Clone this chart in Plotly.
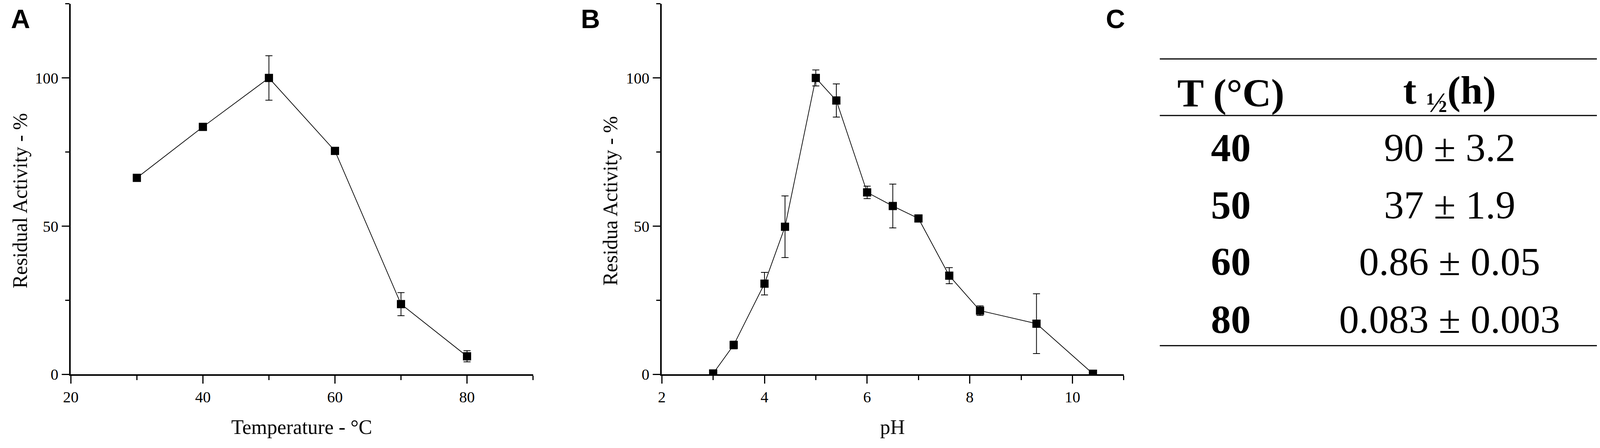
import plotly.graph_objects as go

# panel A - thermal stability
temp_c = [30, 40, 50, 60, 70, 80]
temp_activity = [66.3, 83.5, 100, 75.4, 23.7, 6.1]
temp_err = [0, 0, 7.5, 0, 3.9, 1.9]

# panel B - pH profile
ph_values = [3.0, 3.4, 4.0, 4.4, 5.0, 5.4, 6.0, 6.5, 7.0, 7.6, 8.2, 9.3, 10.4]
ph_activity = [0.3, 9.9, 30.6, 49.8, 100, 92.4, 61.4, 56.8, 52.6, 33.3, 21.5, 17.1, 0.2]
ph_err = [0, 1.3, 3.8, 10.4, 2.7, 5.6, 2.1, 7.4, 0, 2.7, 1.6, 10.1, 0]

# panel C - half lives
table_header = ['T (°C)', 't <sub>½</sub>(h)']
table_temps = ['40', '50', '60', '80']
table_half_life = ['90 ± 3.2', '37 ± 1.9', '0.86 ± 0.05', '0.083 ± 0.003']

SERIF = 'Liberation Serif'

# the browser viewport is 4096 px wide (8 px body margin), so the layout
# below is given in reference pixels (4550 x 1148) and squeezed to fit
REF_W = 4550
VIEW_W, VIEW_H = 4096, 1148
PAD = 8
W, H = VIEW_W - 2 * PAD, VIEW_H - 2 * PAD
SX = VIEW_W / REF_W


def px_x(v):
    return (v * SX - PAD) / W


def px_y(v):
    return (H - (v - PAD)) / H


def series(x, y, err, xa, ya):
    return go.Scatter(
        x=x, y=y, xaxis=xa, yaxis=ya,
        mode='lines+markers',
        line={'color': 'black', 'width': 1.8},
        marker={'symbol': 'square', 'size': 21, 'color': 'black'},
        error_y={'type': 'data', 'array': err, 'visible': True,
                 'color': 'black', 'thickness': 2, 'width': 9},
        showlegend=False,
    )


fig = go.Figure()
fig.add_trace(series(temp_c, temp_activity, temp_err, 'x', 'y'))
fig.add_trace(series(ph_values, ph_activity, ph_err, 'x2', 'y2'))

minor = {'ticklen': 11, 'tickwidth': 3, 'tickcolor': 'black', 'ticks': 'outside'}
axis_style = {
    'showline': True, 'linecolor': 'black', 'linewidth': 3.5,
    'showgrid': False, 'zeroline': False,
    'ticks': 'outside', 'ticklen': 20, 'tickwidth': 3, 'tickcolor': 'black',
    'tickfont': {'family': SERIF, 'size': 40, 'color': 'black'},
    'fixedrange': True,
}

y_bottom, y_top = px_y(979), px_y(10)

fig.update_layout(
    width=W, height=H,
    margin={'l': 0, 'r': 0, 't': 0, 'b': 0},
    paper_bgcolor='white', plot_bgcolor='white',
    xaxis=dict(axis_style, domain=[px_x(180), px_x(1501)], range=[20, 90],
               dtick=20, tick0=20, anchor='y', minor=dict(minor, dtick=10)),
    yaxis=dict(axis_style, domain=[y_bottom, y_top], range=[0, 125],
               dtick=50, tick0=0, anchor='x', minor=dict(minor, dtick=25)),
    xaxis2=dict(axis_style, domain=[px_x(1869), px_x(3189)], range=[2, 11],
                dtick=2, tick0=2, anchor='y2', minor=dict(minor, dtick=1)),
    yaxis2=dict(axis_style, domain=[y_bottom, y_top], range=[0, 125],
                dtick=50, tick0=0, anchor='x2', minor=dict(minor, dtick=25)),
)

ann = []
# axis titles
title_font = {'family': SERIF, 'size': 52, 'color': 'black'}
ann.append(dict(text='Temperature - °C', x=px_x(840), y=px_y(1117), font=title_font))
ann.append(dict(text='pH', x=px_x(2528), y=px_y(1117), font=title_font))
ann.append(dict(text='Residual Activity - %', x=px_x(35), y=px_y(525),
                textangle=-90, font=title_font))
ann.append(dict(text='Residua Activity - %', x=px_x(1722), y=px_y(525),
                textangle=-90, font=title_font))

for a in ann:
    a.update(yanchor='middle')

# panel letters, hung from the top edge
letter_font = {'family': 'Liberation Sans', 'size': 68, 'color': 'black'}
for letter, lx in [('A', 36), ('B', 1665), ('C', 3165)]:
    ann.append(dict(text='<b>%s</b>' % letter, x=px_x(lx), y=1, yanchor='top',
                    font=letter_font))

# table
table_font = {'family': SERIF, 'size': 102, 'color': 'black'}
col_x = [px_x(3495), px_x(4120)]
cells = [('<b>%s</b>' % table_header[0], col_x[0], 243),
         ('<b>%s</b>' % table_header[1], col_x[1], 243)]
row_y = [386, 536, 684, 835]
for t, hl, ry in zip(table_temps, table_half_life, row_y):
    cells.append(('<b>%s</b>' % t, col_x[0], ry))
    cells.append((hl, col_x[1], ry))
for text, cx, cy in cells:
    ann.append(dict(text=text, x=cx, y=px_y(cy), yanchor='middle', font=table_font))

for a in ann:
    a.update(xref='paper', yref='paper', showarrow=False, xanchor='center')
fig.update_layout(annotations=ann)

# table rules
for ly in [154, 302, 904]:
    fig.add_shape(type='line', xref='paper', yref='paper',
                  x0=px_x(3292), x1=px_x(4544), y0=px_y(ly), y1=px_y(ly),
                  line={'color': 'black', 'width': 3})

fig.write_html("out.html")
